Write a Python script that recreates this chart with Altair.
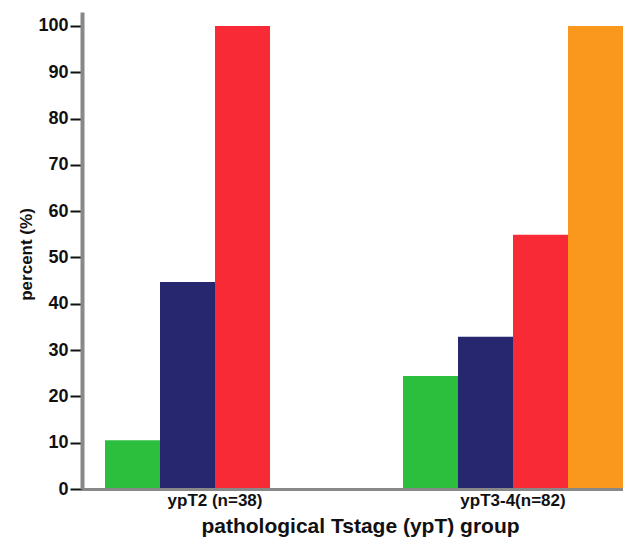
import altair as alt
import pandas as pd

# Data
groups = ["ypT2 (n=38)", "ypT3-4(n=82)"]
series = ["category 1", "category 2", "category 3", "category 4"]
colors = ["#2cbf3e", "#27276f", "#f72a36", "#f9981d"]
values_ypT2 = [10.5, 44.7, 100.0, None]
values_ypT34 = [24.4, 32.9, 54.9, 100.0]
y_ticks = [0, 10, 20, 30, 40, 50, 60, 70, 80, 90, 100]

rows = []
for g, vals in zip(groups, [values_ypT2, values_ypT34]):
    for s, v in zip(series, vals):
        if v is not None:
            rows.append({"group": g, "series": s, "percent": v})
df = pd.DataFrame(rows)

FONT = "Liberation Sans"

chart = alt.Chart(df).mark_bar().encode(
    x=alt.X(
        "group:N",
        sort=groups,
        scale=alt.Scale(paddingInner=0.2617, paddingOuter=0.0386, align=1),
        axis=alt.Axis(
            title="pathological Tstage (ypT) group",
            labelAngle=0,
            ticks=False,
            labelPadding=3,
            labelFont=FONT,
            labelFontSize=17,
            labelFontWeight="bold",
            labelColor="#111111",
            domainColor="#888888",
            domainWidth=3,
            titleFont=FONT,
            titleFontSize=21,
            titleFontWeight="bold",
            titleColor="#111111",
            titleX=278,
            titleY=43,
            titleAlign="center",
            titleBaseline="alphabetic",
            zindex=1,
        ),
    ),
    xOffset=alt.XOffset(
        "series:N",
        sort=series,
        scale=alt.Scale(domain=series, paddingInner=0, paddingOuter=0),
    ),
    y=alt.Y(
        "percent:Q",
        scale=alt.Scale(domain=[0, 103], nice=False),
        axis=alt.Axis(
            values=y_ticks,
            title="percent (%)",
            grid=False,
            tickSize=12,
            tickWidth=2,
            tickColor="#111111",
            labelPadding=2,
            labelFont=FONT,
            labelFontSize=18,
            labelFontWeight="bold",
            labelColor="#111111",
            domainColor="#888888",
            domainWidth=4,
            titleFont=FONT,
            titleFontSize=17,
            titleFontWeight="bold",
            titleColor="#111111",
            titleX=-56,
            titleY=242,
            titleAngle=270,
            titleAlign="center",
            titleBaseline="middle",
            zindex=1,
        ),
    ),
    color=alt.Color(
        "series:N",
        scale=alt.Scale(domain=series, range=colors),
        legend=None,
    ),
).properties(
    width=541,
    height=477,
    padding={"left": 74, "top": 4, "right": 0, "bottom": 48},
    autosize=alt.AutoSizeParams(type="none"),
).configure_view(stroke=None)

chart.save("out.html", embed_options={"renderer": "svg", "actions": False})
